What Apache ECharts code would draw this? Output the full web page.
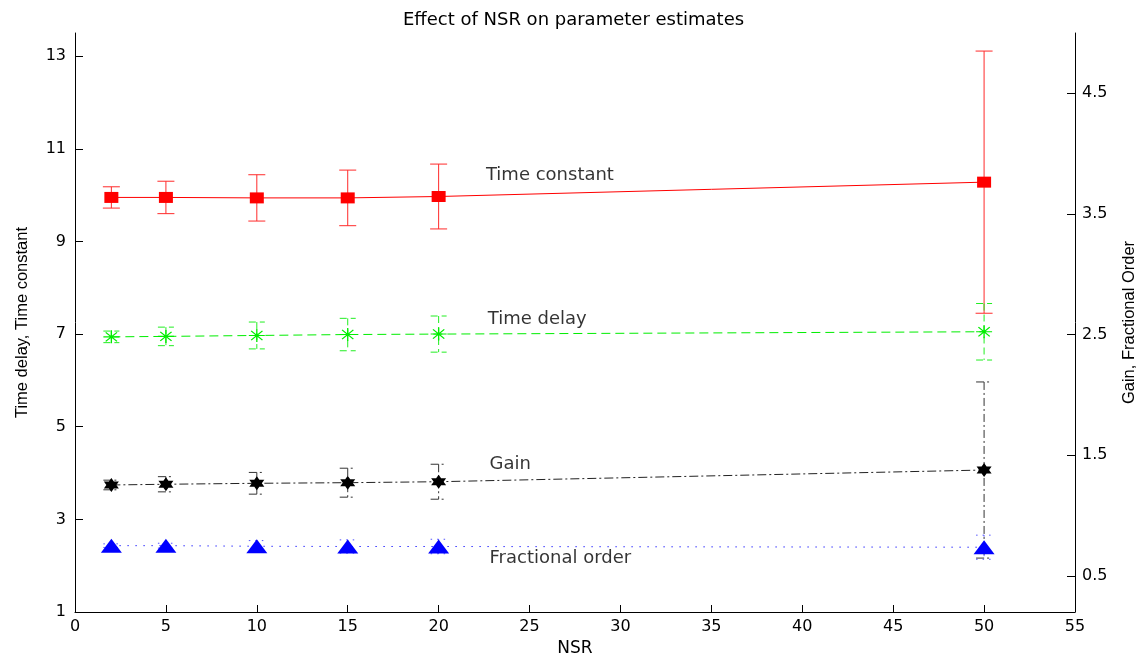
<!DOCTYPE html>
<html>
<head>
<meta charset="utf-8">
<title>Effect of NSR on parameter estimates</title>
<script src="https://cdn.jsdelivr.net/npm/echarts@6/dist/echarts.min.js"></script>
<style>
  html, body { margin: 0; padding: 0; background: #fff; }
  #chart { width: 1147px; height: 658px; }
</style>
</head>
<body>
<div id="chart"></div>
<script>
// Noise-to-signal ratios tested
const nsr = [2, 5, 10, 15, 20, 50];

// Left axis: time constant and time delay (mean and half-width of the error bar)
const timeConstant    = [9.95, 9.95, 9.94, 9.94, 9.97, 10.28];
const timeConstantErr = [0.23, 0.35, 0.50, 0.60, 0.70, 2.83];
const timeDelay       = [6.94, 6.95, 6.97, 6.99, 7.00, 7.05];
const timeDelayErr    = [0.125, 0.20, 0.29, 0.35, 0.39, 0.61];

// Right axis: gain and fractional order
const gain             = [1.253, 1.259, 1.267, 1.272, 1.280, 1.377];
const gainErr          = [0.040, 0.063, 0.090, 0.120, 0.145, 0.730];
const fractionalOrder    = [0.750, 0.750, 0.745, 0.743, 0.743, 0.737];
const fractionalOrderErr = [0.015, 0.020, 0.047, 0.055, 0.060, 0.100];

// Tick labels
const leftTicks  = [1, 3, 5, 7, 9, 11, 13];
const rightTicks = [0.5, 1.5, 2.5, 3.5, 4.5];

// In-plot text annotations, anchored in NSR / left-axis units
const annotationText = ['Time constant', 'Time delay', 'Gain', 'Fractional order'];
const annotationX    = [22.6, 22.7, 22.8, 22.8];
const annotationY    = [10.43, 7.32, 4.18, 2.15];

const LABEL_FONT = 'DejaVu Sans';
const NAME_FONT = 'Liberation Sans, Arial, sans-serif';

function points(ys) { return nsr.map((x, i) => [x, ys[i]]); }
function bars(ys, errs) { return nsr.map((x, i) => [x, ys[i] - errs[i], ys[i] + errs[i]]); }

// Vertical error bar with end caps
function errorBarSeries(name, ys, errs, color, dash, yAxisIndex, capHalf) {
  return {
    name: name + ' error',
    type: 'custom',
    yAxisIndex: yAxisIndex,
    z: 2,
    silent: true,
    encode: { x: 0, y: [1, 2] },
    data: bars(ys, errs),
    renderItem: function (params, api) {
      const x = api.value(0);
      const lo = api.coord([x, api.value(1)]);
      const hi = api.coord([x, api.value(2)]);
      const style = { stroke: color, lineWidth: 1, lineDash: dash, fill: null };
      return {
        type: 'group',
        children: [
          { type: 'line', shape: { x1: hi[0], y1: hi[1], x2: lo[0], y2: lo[1] }, style: style },
          { type: 'line', shape: { x1: hi[0] - capHalf, y1: hi[1], x2: hi[0] + capHalf, y2: hi[1] }, style: style },
          { type: 'line', shape: { x1: lo[0] - capHalf, y1: lo[1], x2: lo[0] + capHalf, y2: lo[1] }, style: style }
        ]
      };
    }
  };
}

const asteriskPath = 'path://M0,-10L0,10M-10,0L10,0M-7.07,-7.07L7.07,7.07M-7.07,7.07L7.07,-7.07';
const hexagramPath = 'path://M0,-10L2.887,-5L8.66,-5L5.774,0L8.66,5L2.887,5L0,10L-2.887,5L-8.66,5L-5.774,0L-8.66,-5L-2.887,-5Z';

const chart = echarts.init(document.getElementById('chart'), null, { renderer: 'canvas' });

const option = {
  animation: false,
  backgroundColor: '#ffffff',
  title: {
    text: 'Effect of NSR on parameter estimates',
    left: 'center',
    top: 6,
    textStyle: { fontFamily: LABEL_FONT, fontSize: 18, fontWeight: 'normal', color: '#000' }
  },
  grid: { left: 75, right: 72, top: 33, bottom: 46, containLabel: false, outerBoundsMode: 'none' },
  xAxis: {
    type: 'value',
    min: 0,
    max: 55,
    interval: 5,
    name: 'NSR',
    nameLocation: 'middle',
    nameGap: 26,
    nameTextStyle: { fontFamily: LABEL_FONT, fontSize: 17, color: '#000' },
    axisLine: { show: true, onZero: false, lineStyle: { color: '#000', width: 1 } },
    axisTick: { show: true, inside: true, length: 7, lineStyle: { color: '#000' } },
    axisLabel: { margin: 7, fontFamily: LABEL_FONT, fontSize: 16, color: '#000' },
    splitLine: { show: false }
  },
  yAxis: [
    {
      type: 'value',
      position: 'left',
      min: 1,
      max: 13.5,
      name: 'Time delay, Time constant',
      nameLocation: 'middle',
      nameGap: 44,
      nameTextStyle: { fontFamily: NAME_FONT, fontSize: 16.5, color: '#000' },
      axisLine: { show: true, lineStyle: { color: '#000', width: 1 } },
      axisTick: { show: true, inside: true, length: 8, customValues: leftTicks, lineStyle: { color: '#000' } },
      axisLabel: { margin: 9, customValues: leftTicks, fontFamily: LABEL_FONT, fontSize: 16, color: '#000' },
      splitLine: { show: false }
    },
    {
      type: 'value',
      position: 'right',
      min: 0.2,
      max: 5.0,
      name: 'Gain, Fractional Order',
      nameLocation: 'middle',
      nameGap: 46,
      nameTextStyle: { fontFamily: NAME_FONT, fontSize: 16.5, color: '#000' },
      axisLine: { show: true, lineStyle: { color: '#000', width: 1 } },
      axisTick: { show: true, inside: true, length: 8, customValues: rightTicks, lineStyle: { color: '#000' } },
      axisLabel: { margin: 7, customValues: rightTicks, fontFamily: LABEL_FONT, fontSize: 16, color: '#000' },
      splitLine: { show: false }
    }
  ],
  series: [
    errorBarSeries('Time constant', timeConstant, timeConstantErr, '#ff2a2a', null, 0, 8.5),
    errorBarSeries('Time delay', timeDelay, timeDelayErr, '#22ee22', [7, 4], 0, 8),
    errorBarSeries('Gain', gain, gainErr, '#333333', [8, 3, 2, 3], 1, 8),
    errorBarSeries('Fractional order', fractionalOrder, fractionalOrderErr, '#5555ff', [1.5, 5], 1, 8),
    {
      name: 'Time constant',
      type: 'line',
      yAxisIndex: 0,
      z: 3,
      data: points(timeConstant),
      symbol: 'rect',
      symbolSize: [14, 11],
      showAllSymbol: true,
      lineStyle: { color: '#ff0000', width: 1, type: 'solid' },
      itemStyle: { color: '#ff0000' }
    },
    {
      name: 'Time delay',
      type: 'line',
      yAxisIndex: 0,
      z: 3,
      data: points(timeDelay),
      symbol: asteriskPath,
      symbolSize: [16, 13],
      showAllSymbol: true,
      lineStyle: { color: '#00ee00', width: 1, type: [9, 5] },
      itemStyle: { color: '#00ee00', borderColor: '#00ee00', borderWidth: 1.2 }
    },
    {
      name: 'Gain',
      type: 'line',
      yAxisIndex: 1,
      z: 3,
      data: points(gain),
      symbol: hexagramPath,
      symbolSize: [15, 14],
      showAllSymbol: true,
      lineStyle: { color: '#222222', width: 1, type: [9, 3, 2, 3] },
      itemStyle: { color: '#000000' }
    },
    {
      name: 'Fractional order',
      type: 'line',
      yAxisIndex: 1,
      z: 3,
      data: points(fractionalOrder),
      symbol: 'triangle',
      symbolSize: [21, 14],
      showAllSymbol: true,
      lineStyle: { color: '#3333ff', width: 1, type: [1.5, 6.5] },
      itemStyle: { color: '#0000ff' }
    },
    {
      name: 'Annotations',
      type: 'scatter',
      yAxisIndex: 0,
      z: 4,
      silent: true,
      symbolSize: 0,
      data: annotationText.map((t, i) => ({ name: t, value: [annotationX[i], annotationY[i]] })),
      label: {
        show: true,
        position: 'right',
        distance: 0,
        formatter: '{b}',
        fontFamily: LABEL_FONT,
        fontSize: 18,
        color: '#000'
      }
    }
  ]
};

chart.setOption(option);
</script>
</body>
</html>
